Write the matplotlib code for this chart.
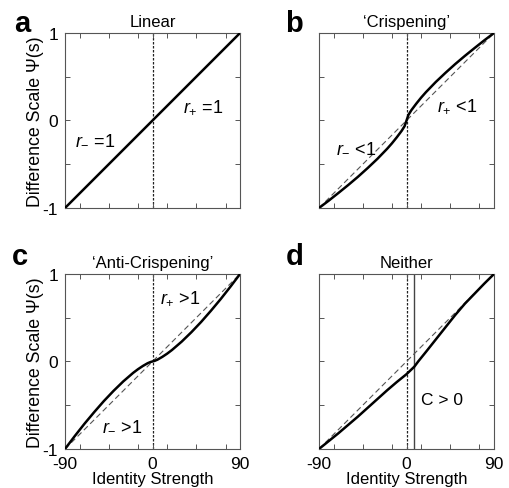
import matplotlib
matplotlib.use('Agg')
import matplotlib.pyplot as plt
from matplotlib.ticker import FixedLocator

plt.rcParams['font.family'] = 'Liberation Sans'
plt.rcParams['mathtext.fontset'] = 'custom'
plt.rcParams['mathtext.rm'] = 'Liberation Sans'
plt.rcParams['mathtext.it'] = 'Liberation Sans:italic'
plt.rcParams['axes.unicode_minus'] = False

# identity strength axis and the straight reference diagonal
diag_s = [-90, 90]
diag_psi = [-1, 1]

# 'Crispening' and 'Anti-Crispening' curves
s_curve = [-90, -80, -70, -60, -50, -40, -30, -20, -15, -10, -5, -2, 0,
           2, 5, 10, 15, 20, 30, 40, 50, 60, 70, 80, 90]
psi_crisp = [-1.0, -0.916, -0.828, -0.738, -0.644, -0.544, -0.439, -0.324, -0.261, -0.192, -0.118, -0.065, 0.0,
             0.065, 0.118, 0.192, 0.261, 0.324, 0.439, 0.544, 0.644, 0.738, 0.828, 0.916, 1.0]
psi_anti = [-1.0, -0.853, -0.712, -0.579, -0.452, -0.335, -0.227, -0.131, -0.089, -0.052, -0.020, -0.006, 0.0,
            0.006, 0.020, 0.052, 0.089, 0.131, 0.227, 0.335, 0.452, 0.579, 0.712, 0.853, 1.0]

# 'Neither' curve, shifted by criterion C
crit_c = 8
s_neither = [-90, -80, -70, -60, -50, -40, -30, -20, -10, 0, 8, 12, 20, 30, 40, 50, 60, 70, 80, 90]
psi_neither = [-1.0, -0.91, -0.82, -0.725, -0.63, -0.53, -0.43, -0.33, -0.235, -0.145, -0.06,
               0.0, 0.11, 0.25, 0.39, 0.53, 0.66, 0.775, 0.89, 1.0]

xticks = [-90, 0, 90]
xminor = [-75, -45, -15, 15, 45, 75]
yticks = [-1, 0, 1]
yminor = [-0.5, 0.5]

fig = plt.figure(figsize=(5.09, 4.89), dpi=100)

W, H = 0.344, 0.358
pos = {'a': [0.1277, 0.5726, W, H], 'b': [0.6267, 0.5726, W, H],
       'c': [0.1277, 0.0798, W, H], 'd': [0.6267, 0.0798, W, H]}
titles = {'a': 'Linear', 'b': '\u2018Crispening\u2019',
          'c': '\u2018Anti-Crispening\u2019', 'd': 'Neither'}

axes = {}
for key in 'abcd':
    ax = fig.add_axes(pos[key])
    ax.set_xlim(-90, 90)
    ax.set_ylim(-1, 1)
    ax.xaxis.set_major_locator(FixedLocator(xticks))
    ax.xaxis.set_minor_locator(FixedLocator(xminor))
    ax.yaxis.set_major_locator(FixedLocator(yticks))
    ax.yaxis.set_minor_locator(FixedLocator(yminor))
    ax.tick_params(which='both', direction='in', top=True, right=True,
                   length=3.5, width=0.7, color='#555555', labelsize=12.5)
    ax.tick_params(axis='x', pad=5)
    ax.tick_params(axis='y', pad=5)
    for sp in ax.spines.values():
        sp.set_color('#555555')
        sp.set_linewidth(0.8)
    ax.set_title(titles[key], fontsize=12, pad=5)
    if key in 'ab':
        ax.set_xticklabels([])
    else:
        ax.set_xlabel('Identity Strength', fontsize=12, labelpad=0)
    if key in 'bd':
        ax.set_yticklabels([])
    else:
        ax.set_ylabel('Difference Scale \u03a8(s)', fontsize=12.8, labelpad=-1)
    # dotted line at zero identity strength
    ax.axvline(0, color='#222222', lw=0.9, ls=(0, (2, 1.2)), zorder=1)
    axes[key] = ax

dash_kw = dict(color='#555555', lw=0.8, ls=(0, (5, 3)), zorder=2)
solid_kw = dict(color='black', lw=1.8, zorder=3)

axes['a'].plot(diag_s, diag_psi, **solid_kw)
axes['a'].text(-80, -0.21, r'$r_{-}$ =1', fontsize=13, va='center')
axes['a'].text(31, 0.16, r'$r_{+}$ =1', fontsize=13, va='center')

axes['b'].plot(diag_s, diag_psi, **dash_kw)
axes['b'].plot(s_curve, psi_crisp, **solid_kw)
axes['b'].text(-72, -0.30, r'$r_{-}$ <1', fontsize=13, va='center')
axes['b'].text(31, 0.18, r'$r_{+}$ <1', fontsize=13, va='center')

axes['c'].plot(diag_s, diag_psi, **dash_kw)
axes['c'].plot(s_curve, psi_anti, **solid_kw)
axes['c'].text(8, 0.74, r'$r_{+}$ >1', fontsize=13, va='center')
axes['c'].text(-52, -0.72, r'$r_{-}$ >1', fontsize=13, va='center')

axes['d'].plot(diag_s, diag_psi, **dash_kw)
axes['d'].axvline(crit_c, color='#444444', lw=1.0, zorder=1)
axes['d'].plot(s_neither, psi_neither, **solid_kw)
axes['d'].text(15, -0.44, 'C > 0', fontsize=12.5, va='center')

# panel letters
for key, (x, y) in {'a': (0.028, 0.935), 'b': (0.561, 0.935),
                    'c': (0.024, 0.458), 'd': (0.561, 0.458)}.items():
    fig.text(x, y, key, fontsize=21, fontweight='bold')

fig.savefig('out.png', dpi=100)
